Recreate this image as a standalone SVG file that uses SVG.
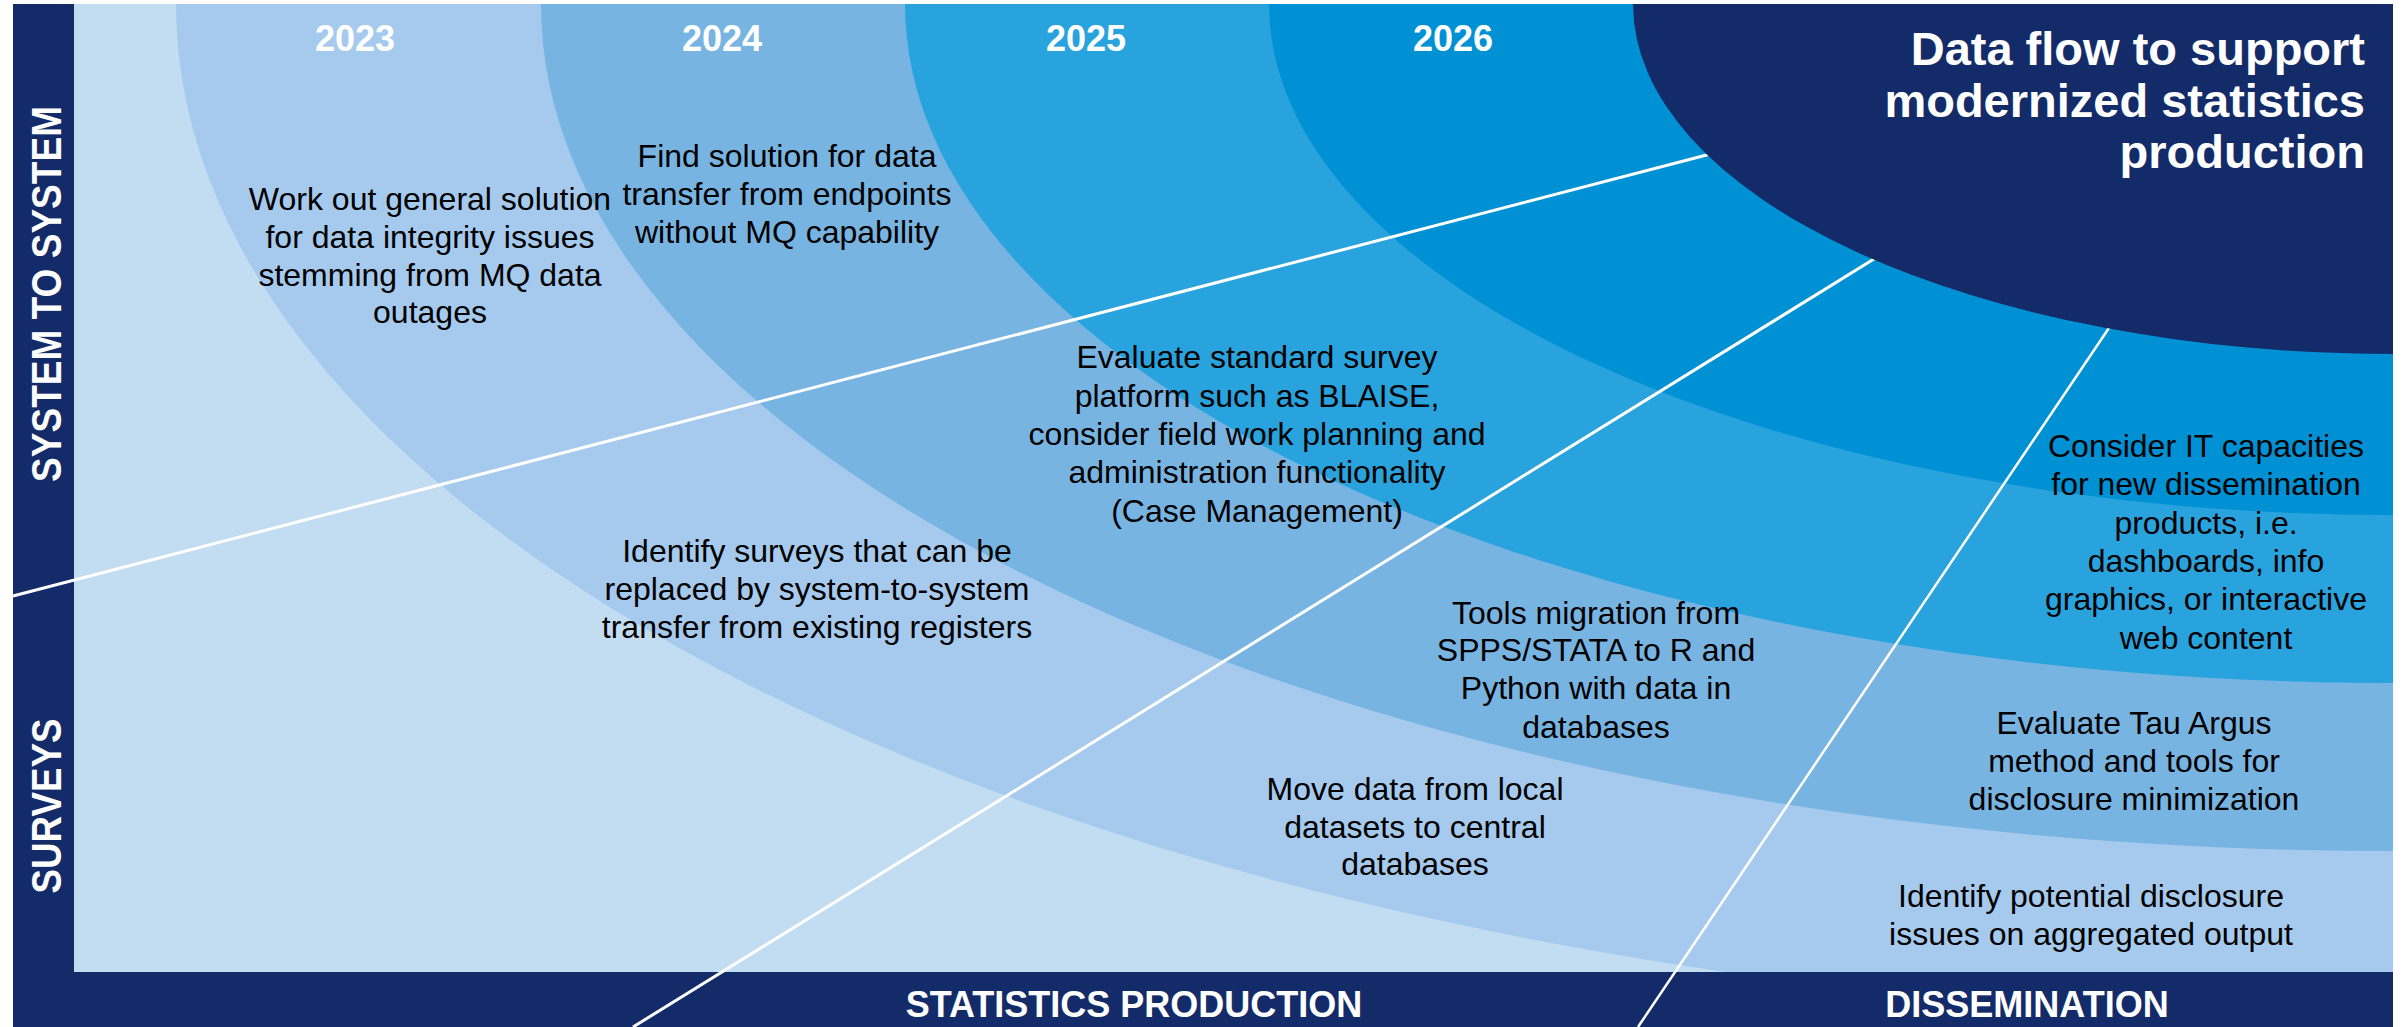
<svg xmlns="http://www.w3.org/2000/svg" width="2405" height="1027" viewBox="0 0 2405 1027">
  <defs>
    <clipPath id="plot">
      <rect x="74" y="4" width="2319" height="968"/>
    </clipPath>
    <style>
      .bg { fill: #ffffff; }
      .navy { fill: #132c69; }
      .body { font-family: "Liberation Sans", Arial, sans-serif; font-size: 32px; fill: #000000; text-anchor: middle; }
      .year { font-family: "Liberation Sans", Arial, sans-serif; font-size: 36px; font-weight: bold; fill: #ffffff; text-anchor: middle; }
      .axis { font-family: "Liberation Sans", Arial, sans-serif; font-size: 36px; font-weight: bold; fill: #ffffff; text-anchor: middle; }
      .vaxis { font-family: "Liberation Sans", Arial, sans-serif; font-size: 42px; font-weight: bold; fill: #ffffff; text-anchor: middle; }
      .title { font-family: "Liberation Sans", Arial, sans-serif; font-size: 47px; font-weight: bold; fill: #ffffff; text-anchor: end; }
      .conn { stroke: #ffffff; fill: none; stroke-linecap: butt; }
    </style>
  </defs>

  <rect class="bg" x="0" y="0" width="2405" height="1027"/>

  <g id="rings" clip-path="url(#plot)">
    <rect x="74" y="4" width="2319" height="968" fill="#c2ddf2"/>
    <ellipse cx="2393" cy="4" rx="2217" ry="1015" fill="#a5caed"/>
    <ellipse cx="2393" cy="4" rx="1852" ry="847" fill="#77b4e2"/>
    <ellipse cx="2393" cy="4" rx="1488" ry="679" fill="#29a3dd"/>
    <ellipse cx="2393" cy="4" rx="1124" ry="511" fill="#0091d5"/>
  </g>

  <g id="frame">
    <rect class="navy" x="13" y="4" width="61" height="1023"/>
    <rect class="navy" x="13" y="972" width="2380" height="55"/>
  </g>

  <g id="connectors">
    <line class="conn" x1="13" y1="596" x2="1722" y2="151" stroke-width="3"/>
    <line class="conn" x1="633" y1="1027" x2="1882" y2="254" stroke-width="3"/>
    <line class="conn" x1="1638" y1="1027" x2="2115" y2="319" stroke-width="2.5"/>
  </g>

  <g id="core" clip-path="url(#plot)">
    <ellipse class="navy" cx="2393" cy="4" rx="760" ry="350"/>
  </g>

  <g id="years">
    <text class="year" x="355" y="51">2023</text>
    <text class="year" x="722" y="51">2024</text>
    <text class="year" x="1086" y="51">2025</text>
    <text class="year" x="1453" y="51">2026</text>
  </g>

  <g id="title">
    <text class="title" x="2365" y="65">Data flow to support</text>
    <text class="title" x="2365" y="117">modernized statistics</text>
    <text class="title" x="2365" y="168">production</text>
  </g>

  <g id="axis-system">
    <text class="vaxis" transform="translate(61,294) rotate(-90)" textLength="376" lengthAdjust="spacingAndGlyphs">SYSTEM TO SYSTEM</text>
  </g>
  <g id="axis-surveys">
    <text class="vaxis" transform="translate(61,806) rotate(-90)" textLength="175" lengthAdjust="spacingAndGlyphs">SURVEYS</text>
  </g>
  <g id="axis-production">
    <text class="axis" x="1134" y="1017">STATISTICS PRODUCTION</text>
  </g>
  <g id="axis-dissemination">
    <text class="axis" x="2027" y="1017">DISSEMINATION</text>
  </g>

  <g id="n-integrity">
    <text class="body" x="430" y="210">Work out general solution</text>
    <text class="body" x="430" y="248">for data integrity issues</text>
    <text class="body" x="430" y="286">stemming from MQ data</text>
    <text class="body" x="430" y="323">outages</text>
  </g>
  <g id="n-endpoints">
    <text class="body" x="787" y="167">Find solution for data</text>
    <text class="body" x="787" y="205">transfer from endpoints</text>
    <text class="body" x="787" y="243">without MQ capability</text>
  </g>
  <g id="n-blaise">
    <text class="body" x="1257" y="368">Evaluate standard survey</text>
    <text class="body" x="1257" y="407">platform such as BLAISE,</text>
    <text class="body" x="1257" y="445">consider field work planning and</text>
    <text class="body" x="1257" y="483">administration functionality</text>
    <text class="body" x="1257" y="522">(Case Management)</text>
  </g>
  <g id="n-surveys">
    <text class="body" x="817" y="562">Identify surveys that can be</text>
    <text class="body" x="817" y="600">replaced by system-to-system</text>
    <text class="body" x="817" y="638">transfer from existing registers</text>
  </g>
  <g id="n-tools">
    <text class="body" x="1596" y="624">Tools migration from</text>
    <text class="body" x="1596" y="661">SPPS/STATA to R and</text>
    <text class="body" x="1596" y="699">Python with data in</text>
    <text class="body" x="1596" y="738">databases</text>
  </g>
  <g id="n-move">
    <text class="body" x="1415" y="800">Move data from local</text>
    <text class="body" x="1415" y="838">datasets to central</text>
    <text class="body" x="1415" y="875">databases</text>
  </g>
  <g id="n-it">
    <text class="body" x="2206" y="457">Consider IT capacities</text>
    <text class="body" x="2206" y="495">for new dissemination</text>
    <text class="body" x="2206" y="534">products, i.e.</text>
    <text class="body" x="2206" y="572">dashboards, info</text>
    <text class="body" x="2206" y="610">graphics, or interactive</text>
    <text class="body" x="2206" y="649">web content</text>
  </g>
  <g id="n-tau">
    <text class="body" x="2134" y="734">Evaluate Tau Argus</text>
    <text class="body" x="2134" y="772">method and tools for</text>
    <text class="body" x="2134" y="810">disclosure minimization</text>
  </g>
  <g id="n-disclosure">
    <text class="body" x="2091" y="907">Identify potential disclosure</text>
    <text class="body" x="2091" y="945">issues on aggregated output</text>
  </g>
</svg>
